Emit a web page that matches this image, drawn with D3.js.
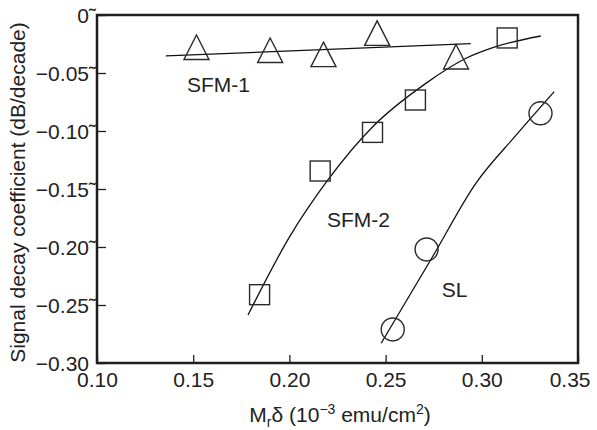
<!DOCTYPE html>
<html>
<head>
<meta charset="utf-8">
<script src="https://cdn.jsdelivr.net/npm/d3@7"></script>
<style>
  body { margin: 0; background: #fff; }
  text { font-family: "Liberation Sans", Arial, sans-serif; fill: #222; }
</style>
</head>
<body>
<div id="chart"></div>
<script>
const width = 597;
const height = 430;
const margin = { top: 15, right: 19, bottom: 67, left: 97 };

// x ticks and y ticks
const xTicks = [0.10, 0.15, 0.20, 0.25, 0.30, 0.35];
const xTickLabels = ['0.10', '0.15', '0.20', '0.25', '0.30', '0.35'];
const yTicks = [0, -0.05, -0.10, -0.15, -0.20, -0.25, -0.30];
const yTickLabels = ['0\u02DC', '\u22120.05\u02DC', '\u22120.10\u02DC', '\u22120.15\u02DC', '\u22120.20\u02DC', '\u22120.25\u02DC', '\u22120.30'];

// measured points
const sfm1X = [0.1517, 0.190, 0.2177, 0.2456, 0.2866];
const sfm1Y = [-0.0280, -0.0306, -0.0342, -0.0158, -0.0362];
const sfm2X = [0.1845, 0.2160, 0.2432, 0.2655, 0.3132];
const sfm2Y = [-0.2411, -0.1345, -0.1012, -0.0733, -0.0198];
const slX = [0.2537, 0.2713, 0.3305];
const slY = [-0.2711, -0.2021, -0.0847];

// fitted curves
const sfm1FitX = [0.1358, 0.2943];
const sfm1FitY = [-0.0353, -0.0246];
const sfm2FitX = [0.1785, 0.2000, 0.2200, 0.2433, 0.2700, 0.2918, 0.3073, 0.3307];
const sfm2FitY = [-0.2586, -0.1915, -0.1422, -0.0963, -0.0600, -0.0373, -0.0273, -0.0181];
const slFitX = [0.2477, 0.2744, 0.2969, 0.3176, 0.3376];
const slFitY = [-0.2830, -0.2084, -0.1451, -0.1040, -0.0661];

const seriesNames = ['SFM-1', 'SFM-2', 'SL'];
const labelX = [0.1468, 0.2195, 0.2792];
const labelY = [-0.0668, -0.1828, -0.2431];

const zip = (xs, ys) => xs.map((x, i) => [x, ys[i]]);

const svg = d3.select('#chart')
  .append('svg')
  .attr('width', width)
  .attr('height', height);

const x = d3.scaleLinear()
  .domain([0.10, 0.35])
  .range([margin.left, width - margin.right]);

const y = d3.scaleLinear()
  .domain([-0.30, 0])
  .range([height - margin.bottom, margin.top]);

const ink = '#1e1e1e';

// frame
svg.append('rect')
  .attr('x', x(0.10))
  .attr('y', y(0))
  .attr('width', x(0.35) - x(0.10))
  .attr('height', y(-0.30) - y(0))
  .attr('fill', 'none')
  .attr('stroke', ink)
  .attr('stroke-width', 2.5);

// bottom axis, ticks inside
const xAxis = svg.append('g')
  .attr('transform', `translate(0,${y(-0.30)})`)
  .call(d3.axisBottom(x).tickValues(xTicks).tickSize(-8).tickFormat((d, i) => xTickLabels[i]));
xAxis.select('.domain').remove();
xAxis.selectAll('line').attr('stroke', ink).attr('stroke-width', 1.3);
xAxis.selectAll('text')
  .attr('y', 23.5)
  .attr('dy', 0)
  .style('font-size', '21px')
  .style('font-family', '"Liberation Sans", Arial, sans-serif')
  .attr('fill', '#222');
// last label sits a little inside the window
xAxis.selectAll('.tick').filter(d => d === 0.35).select('text')
  .attr('text-anchor', 'end')
  .attr('x', 12);

// left axis
const yAxis = svg.append('g')
  .attr('transform', `translate(${x(0.10)},0)`)
  .call(d3.axisLeft(y).tickValues(yTicks).tickSize(-9).tickFormat((d, i) => yTickLabels[i]));
yAxis.select('.domain').remove();
yAxis.selectAll('line').attr('stroke', ink).attr('stroke-width', 1.3);
yAxis.selectAll('text')
  .attr('x', -1)
  .attr('dy', 7)
  .style('font-size', '21px')
  .style('font-family', '"Liberation Sans", Arial, sans-serif')
  .attr('fill', '#222');
yAxis.selectAll('.tick').filter(d => d === -0.30).select('text').attr('x', -8);

// fitted lines
const line = d3.line()
  .x(d => x(d[0]))
  .y(d => y(d[1]))
  .curve(d3.curveMonotoneX);

[zip(sfm1FitX, sfm1FitY), zip(sfm2FitX, sfm2FitY), zip(slFitX, slFitY)].forEach(pts => {
  svg.append('path')
    .datum(pts)
    .attr('d', line)
    .attr('fill', 'none')
    .attr('stroke', '#111')
    .attr('stroke-width', 1.3);
});

// markers
const markStroke = '#2a2a2a';

svg.selectAll('.tri')
  .data(zip(sfm1X, sfm1Y))
  .enter()
  .append('path')
  .attr('class', 'tri')
  .attr('d', d => {
    const cx = x(d[0]), cy = y(d[1]);
    return `M${cx},${cy - 12.5}L${cx + 12.5},${cy + 12}L${cx - 12.5},${cy + 12}Z`;
  })
  .attr('fill', 'none')
  .attr('stroke', markStroke)
  .attr('stroke-width', 1.4);

svg.selectAll('.sq')
  .data(zip(sfm2X, sfm2Y))
  .enter()
  .append('rect')
  .attr('class', 'sq')
  .attr('x', d => x(d[0]) - 10)
  .attr('y', d => y(d[1]) - 10)
  .attr('width', 20)
  .attr('height', 20)
  .attr('fill', 'none')
  .attr('stroke', markStroke)
  .attr('stroke-width', 1.4);

svg.selectAll('.circ')
  .data(zip(slX, slY))
  .enter()
  .append('circle')
  .attr('class', 'circ')
  .attr('cx', d => x(d[0]))
  .attr('cy', d => y(d[1]))
  .attr('r', 11.5)
  .attr('fill', 'none')
  .attr('stroke', markStroke)
  .attr('stroke-width', 1.4);

// series labels
svg.selectAll('.lbl')
  .data(seriesNames)
  .enter()
  .append('text')
  .attr('class', 'lbl')
  .attr('x', (d, i) => x(labelX[i]))
  .attr('y', (d, i) => y(labelY[i]))
  .style('font-size', '21px')
  .text(d => d);

// axis titles
const xTitle = svg.append('text')
  .attr('x', 340)
  .attr('y', 421.5)
  .attr('text-anchor', 'middle')
  .style('font-size', '21px');
xTitle.append('tspan').text('M');
xTitle.append('tspan').attr('dy', 5).style('font-size', '14px').text('r');
xTitle.append('tspan').attr('dy', -5).text('\u03B4 (10');
xTitle.append('tspan').attr('dy', -8).style('font-size', '14px').text('\u22123');
xTitle.append('tspan').attr('dy', 8).text(' emu/cm');
xTitle.append('tspan').attr('dy', -8).style('font-size', '14px').text('2');
xTitle.append('tspan').attr('dy', 8).text(')');

svg.append('text')
  .attr('transform', 'translate(25,192.5) rotate(-90)')
  .attr('text-anchor', 'middle')
  .style('font-size', '21px')
  .text('Signal decay coefficient (dB/decade)');
</script>
</body>
</html>
